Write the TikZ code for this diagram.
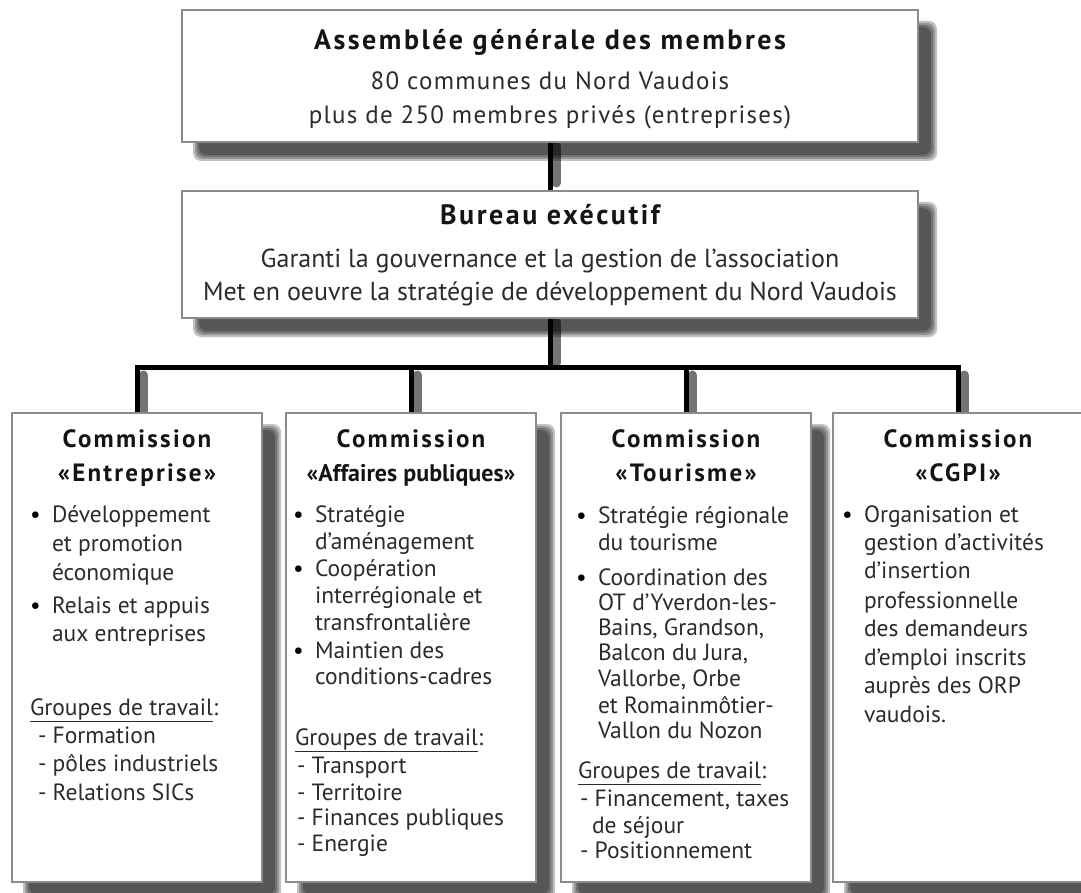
\documentclass[tikz,border=0pt]{standalone}
\usepackage{fontspec}
\setmainfont{PT Sans}
\newfontfamily\spacedfont[LetterSpace=9]{PT Sans}
\newfontfamily\midfont[LetterSpace=5]{PT Sans}
\definecolor{txtc}{HTML}{2B2B2B}
\definecolor{ttlc}{HTML}{141414}
\definecolor{bordc}{HTML}{8C8C8C}
\newcommand\mybul{\llap{\makebox[22pt][l]{\textcolor{black}{•}}}}
\newcommand\tline[4]{\node[txt, anchor=base west] (#1) at (#2,#3) {#4};}
\newcommand\boxshadow[1]{\foreach \e in {6,4,2,0}{\fill[black,opacity=0.24,rounded corners=8pt] ([shift={(17-\e,17-\e)}]#1.north west) rectangle ([shift={(13+\e,13+\e)}]#1.south east);}}
\begin{document}
\begin{tikzpicture}[x=1pt,y=-1pt,
  box/.style={draw=bordc, line width=1.4pt, fill=white, inner sep=0pt, outer sep=0pt},
  txt/.style={inner sep=0pt, outer sep=0pt, text=txtc, font=\fontsize{23.5}{27}\selectfont},
  btxt/.style={inner sep=0pt, outer sep=0pt, text=txtc, font=\fontsize{26}{30}\selectfont},
  ttl/.style={inner sep=0pt, outer sep=0pt, text=ttlc, font=\fontsize{28}{32}\selectfont\bfseries\spacedfont},
  ctl/.style={inner sep=0pt, outer sep=0pt, text=ttlc, font=\fontsize{25}{29}\selectfont\bfseries\spacedfont},
  conn/.style={line width=5pt, black},
  cshadow/.style={line width=9pt, black, opacity=0.55, line cap=round}]
\useasboundingbox (0,0) rectangle (1081,893);
\clip (0,0) rectangle (1081,893);

% box geometry (invisible first pass via path nodes)
\path (550,76) node[minimum width=736pt, minimum height=132pt, inner sep=0pt, outer sep=0pt] (agS) {};
\path (550,254.5) node[minimum width=736pt, minimum height=127pt, inner sep=0pt, outer sep=0pt] (beS) {};
\path (137,647.5) node[minimum width=250pt, minimum height=469pt, inner sep=0pt, outer sep=0pt] (c1S) {};
\path (411,647.5) node[minimum width=250pt, minimum height=469pt, inner sep=0pt, outer sep=0pt] (c2S) {};
\path (686,647.5) node[minimum width=250pt, minimum height=469pt, inner sep=0pt, outer sep=0pt] (c3S) {};
\path (958,647.5) node[minimum width=250pt, minimum height=469pt, inner sep=0pt, outer sep=0pt] (c4S) {};

% shadows
\boxshadow{agS}
\boxshadow{beS}
\boxshadow{c1S}
\boxshadow{c2S}
\boxshadow{c3S}
\boxshadow{c4S}

\coordinate (bar) at (550,367);
\coordinate (j1) at (c1S.north |- bar);
\coordinate (j2) at (c2S.north |- bar);
\coordinate (j3) at (c3S.north |- bar);
\coordinate (j4) at (c4S.north |- bar);

% connector shadows
\draw[cshadow] ([shift={(6,4)}]agS.south) -- ([shift={(6,-8)}]beS.north);
\draw[cshadow] ([shift={(6,4)}]beS.south) -- ([shift={(6,-4)}]bar);
\foreach \j/\c in {j1/c1S,j2/c2S,j3/c3S,j4/c4S}
  \draw[cshadow] ([shift={(6,8)}]\j) -- ([shift={(6,0)}]\c.north);

% connectors
\draw[conn] (agS.south) -- (beS.north);
\draw[conn] (beS.south) -- (bar);
\draw[conn] (c1S.north) -- (j1) -- (j4) -- (c4S.north);
\draw[conn] (c2S.north) -- (j2);
\draw[conn] (c3S.north) -- (j3);

% boxes
\node[box, minimum width=736pt, minimum height=132pt] (ag) at (agS) {};
\node[box, minimum width=736pt, minimum height=127pt] (be) at (beS) {};
\node[box, minimum width=250pt, minimum height=469pt] (c1) at (c1S) {};
\node[box, minimum width=250pt, minimum height=469pt] (c2) at (c2S) {};
\node[box, minimum width=250pt, minimum height=469pt] (c3) at (c3S) {};
\node[box, minimum width=250pt, minimum height=469pt] (c4) at (c4S) {};

% top box texts
\node[ttl, anchor=base] (agT) at (550,50) {Assemblée générale des membres};
\node[btxt, anchor=base, font=\fontsize{25}{29}\selectfont\midfont] (agA) at (550,90) {80 communes du Nord Vaudois};
\node[btxt, anchor=base, font=\fontsize{25}{29}\selectfont\midfont] (agB) at (550,124) {plus de 250 membres privés (entreprises)};

% bureau texts
\node[ttl, anchor=base] (beT) at (550,225) {Bureau exécutif};
\node[btxt, anchor=base] (beA) at (550,268) {Garanti la gouvernance et la gestion de l’association};
\node[btxt, anchor=base] (beB) at (550,301) {Met en oeuvre la stratégie de développement du Nord Vaudois};

% commission titles
\node[ctl, anchor=base] (c1T) at (c1.center |- 0,447) {Commission};
\node[ctl, anchor=base] (c1U) at (c1.center |- 0,481) {«Entreprise»};
\node[ctl, anchor=base] (c2T) at (c2.center |- 0,447) {Commission};
\node[ctl, anchor=base, font=\fontsize{24}{28}\selectfont\bfseries] (c2U) at (c2.center |- 0,481) {«Affaires publiques»};
\node[ctl, anchor=base] (c3T) at (c3.center |- 0,447) {Commission};
\node[ctl, anchor=base] (c3U) at (c3.center |- 0,481) {«Tourisme»};
\node[ctl, anchor=base] (c4T) at (c4.center |- 0,447) {Commission};
\node[ctl, anchor=base] (c4U) at (c4.center |- 0,481) {«CGPI»};

% box 1
\tline{a1}{52}{522}{\mybul Développement}
\tline{a2}{52}{551}{et promotion}
\tline{a3}{52}{580}{économique}
\tline{a4}{52}{613}{\mybul Relais et appuis}
\tline{a5}{52}{641}{aux entreprises}
\tline{a6}{30}{715}{\underline{Groupes de travail}:}
\tline{a7}{38}{743}{- Formation}
\tline{a8}{38}{771}{- pôles industriels}
\tline{a9}{38}{800}{- Relations SICs}

% box 2
\tline{b1}{315}{522}{\mybul Stratégie}
\tline{b2}{315}{549}{d’aménagement}
\tline{b3}{315}{576}{\mybul Coopération}
\tline{b4}{315}{603}{interrégionale et}
\tline{b5}{315}{630}{transfrontalière}
\tline{b6}{315}{658}{\mybul Maintien des}
\tline{b7}{315}{684}{conditions-cadres}
\tline{b8}{295}{745}{\underline{Groupes de travail}:}
\tline{b9}{297}{773}{- Transport}
\tline{b10}{297}{800}{- Territoire}
\tline{b11}{297}{825}{- Finances publiques}
\tline{b12}{297}{851}{- Energie}

% box 3
\tline{d1}{598}{523}{\mybul Stratégie régionale}
\tline{d2}{598}{550}{du tourisme}
\tline{d3}{598}{585}{\mybul Coordination des}
\tline{d4}{598}{610}{OT d’Yverdon-les-}
\tline{d5}{598}{635}{Bains, Grandson,}
\tline{d6}{598}{660}{Balcon du Jura,}
\tline{d7}{598}{686}{Vallorbe, Orbe}
\tline{d8}{598}{713}{et Romainmôtier-}
\tline{d9}{598}{738}{Vallon du Nozon}
\tline{d10}{578}{778}{\underline{Groupes de travail}:}
\tline{d11}{580}{806}{- Financement, taxes}
\tline{d12}{592}{833}{de séjour}
\tline{d13}{580}{858}{- Positionnement}

% box 4
\tline{e1}{864}{522}{\mybul Organisation et}
\tline{e2}{864}{550}{gestion d’activités}
\tline{e3}{864}{578}{d’insertion}
\tline{e4}{864}{608}{professionnelle}
\tline{e5}{864}{636}{des demandeurs}
\tline{e6}{864}{665}{d’emploi inscrits}
\tline{e7}{864}{693}{auprès des ORP}
\tline{e8}{864}{722}{vaudois.}
\end{tikzpicture}
\end{document}
